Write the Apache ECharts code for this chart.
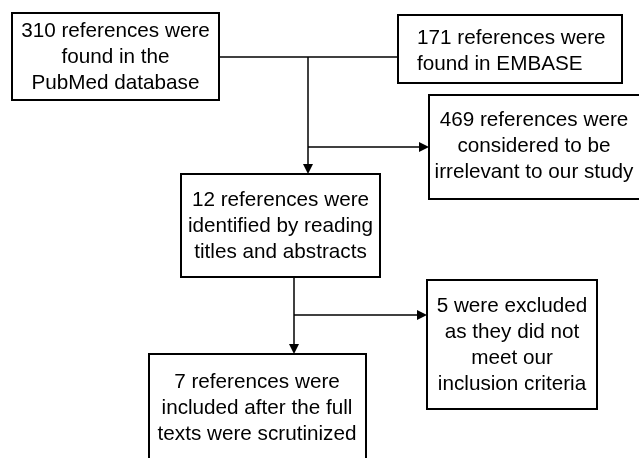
<!DOCTYPE html>
<html><head><meta charset="utf-8">
<script src="https://cdn.jsdelivr.net/npm/echarts@6/dist/echarts.min.js"></script>
<style>html,body{margin:0;padding:0;background:#fff}#c{width:639px;height:458px}</style>
</head><body><div id="c"></div>
<script>
// Flowchart content (text of each box)
const boxTexts = [
  ['310 references were', 'found in the', 'PubMed database'],
  ['171 references were', 'found in EMBASE'],
  ['469 references were', 'considered to be', 'irrelevant to our study'],
  ['12 references were', 'identified by reading', 'titles and abstracts'],
  ['5 were excluded', 'as they did not', 'meet our', 'inclusion criteria'],
  ['7 references were', 'included after the full', 'texts were scrutinized']
];
// Layout (in chart units mapped 1:1 to pixels via hidden axes)
const boxRects = [
  [12, 13, 219, 100],
  [398, 15, 622, 83],
  [429, 95, 644, 199],
  [181, 174, 380, 277],
  [427, 280, 597, 409],
  [149, 354, 366, 470]
];
const textAnchors = [
  [115.5, 57, 'center'],
  [417, 51, 'left'],
  [534, 146, 'center'],
  [280.5, 226.5, 'center'],
  [512, 345, 'center'],
  [257, 408, 'center']
];
// Connectors: x1, y1, x2, y2, arrow (1 = arrowhead at end)
const connectors = [
  [219, 57, 398, 57, 0],
  [308, 57, 308, 174, 1],
  [308, 147, 429, 147, 1],
  [294, 277, 294, 354, 1],
  [294, 315, 427, 315, 1]
];

const FONT = '20.7px "Liberation Sans", Arial, sans-serif';
const chart = echarts.init(document.getElementById('c'), null, {renderer: 'canvas'});

const boxData = boxRects.map((r, i) => r.concat([i]));

chart.setOption({
  animation: false,
  backgroundColor: '#ffffff',
  grid: {left: 0, right: 0, top: 0, bottom: 0},
  xAxis: {type: 'value', min: 0, max: 639, show: false},
  yAxis: {type: 'value', min: 0, max: 458, inverse: true, show: false},
  series: [
    {
      type: 'custom',
      coordinateSystem: 'cartesian2d',
      clip: false,
      encode: {x: [0, 2], y: [1, 3]},
      data: connectors,
      z: 1,
      renderItem: function (params, api) {
        const p1 = api.coord([api.value(0), api.value(1)]);
        const p2 = api.coord([api.value(2), api.value(3)]);
        const arrow = api.value(4) === 1;
        const children = [];
        const dx = p2[0] - p1[0], dy = p2[1] - p1[1];
        const len = Math.sqrt(dx * dx + dy * dy);
        const ux = dx / len, uy = dy / len;
        const aL = 10, aW = 5;
        const end = arrow ? [p2[0] - ux * aL, p2[1] - uy * aL] : p2;
        children.push({
          type: 'line',
          shape: {x1: p1[0], y1: p1[1], x2: end[0], y2: end[1]},
          style: {stroke: '#000', lineWidth: 1.5}
        });
        if (arrow) {
          const bx = p2[0] - ux * aL, by = p2[1] - uy * aL;
          children.push({
            type: 'polygon',
            shape: {points: [[p2[0], p2[1]], [bx - uy * aW, by + ux * aW], [bx + uy * aW, by - ux * aW]]},
            style: {fill: '#000'}
          });
        }
        return {type: 'group', children: children};
      }
    },
    {
      type: 'custom',
      coordinateSystem: 'cartesian2d',
      clip: false,
      encode: {x: [0, 2], y: [1, 3]},
      data: boxData,
      z: 2,
      renderItem: function (params, api) {
        const i = api.value(4);
        const a = api.coord([api.value(0), api.value(1)]);
        const b = api.coord([api.value(2), api.value(3)]);
        const t = textAnchors[i];
        const tp = api.coord([t[0], t[1]]);
        return {
          type: 'group',
          children: [
            {
              type: 'rect',
              shape: {x: a[0], y: a[1], width: b[0] - a[0], height: b[1] - a[1]},
              style: {fill: '#fff', stroke: '#000', lineWidth: 2}
            },
            {
              type: 'text',
              style: {
                text: boxTexts[i].join('\n'),
                x: tp[0], y: tp[1],
                align: t[2], verticalAlign: 'middle',
                font: FONT, lineHeight: 26, fill: '#000'
              }
            }
          ]
        };
      }
    }
  ]
});
</script>
</body></html>
